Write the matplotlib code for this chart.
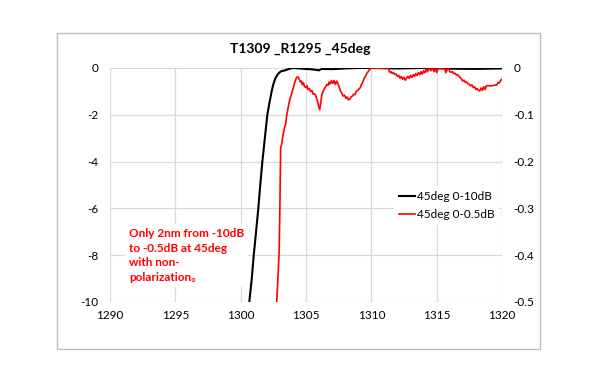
import matplotlib
matplotlib.use("Agg")
import matplotlib.pyplot as plt
from matplotlib.patches import Rectangle

title = "T1309 _R1295 _45deg"
series_black = "45deg 0-10dB"
series_red = "45deg 0-0.5dB"
note = "Only 2nm from -10dB\nto -0.5dB at 45deg\nwith non-\npolarization\u3002"

black_x = [1300.6, 1300.66, 1300.85, 1301.0, 1301.18, 1301.35, 1301.5, 1301.66, 1301.85,
           1302.04, 1302.2, 1302.37, 1302.5, 1302.65, 1302.8, 1302.95, 1303.1, 1303.4,
           1303.7, 1304.0, 1304.5, 1305.0, 1305.5, 1306.0, 1306.2, 1307.0, 1308.0, 1309.0,
           1310.0, 1312.0, 1314.0, 1316.0, 1318.0, 1320.0]
black_y = [-10.5, -10, -9, -8, -7, -6, -5, -4, -3, -2, -1.5, -1, -0.7, -0.45, -0.3, -0.2,
           -0.14, -0.1, -0.04, 0.0, -0.02, -0.04, -0.06, -0.1, -0.04, -0.05, -0.02, 0.0,
           0.0, -0.02, 0.0, -0.03, -0.04, -0.02]

red_x = [1302.72, 1302.85, 1302.95, 1303.0, 1303.04, 1303.06, 1303.12, 1303.2, 1303.3, 1303.38,
         1303.45, 1303.5, 1303.6, 1303.7, 1303.78, 1303.85, 1303.95, 1304.05, 1304.15, 1304.25,
         1304.33, 1304.42, 1304.5, 1304.58, 1304.65, 1304.72, 1304.8, 1304.9, 1305.0, 1305.08,
         1305.15, 1305.25, 1305.35, 1305.45, 1305.55, 1305.65, 1305.75, 1305.85, 1305.95, 1306.05,
         1306.12, 1306.2, 1306.3, 1306.4, 1306.5, 1306.6, 1306.7, 1306.78, 1306.85, 1306.95,
         1307.05, 1307.15, 1307.25, 1307.35, 1307.45, 1307.55, 1307.65, 1307.75, 1307.85, 1307.95,
         1308.05, 1308.15, 1308.25, 1308.35, 1308.45, 1308.55, 1308.65, 1308.75, 1308.85, 1308.95,
         1309.05, 1309.15, 1309.25, 1309.35, 1309.45, 1309.55, 1309.65, 1309.75, 1309.85, 1309.95,
         1311.3, 1311.4, 1311.5, 1311.6, 1311.7, 1311.8, 1311.9, 1312.0, 1312.1, 1312.2,
         1312.3, 1312.4, 1312.5, 1312.6, 1312.7, 1312.8, 1312.9, 1313.0, 1313.1, 1313.2,
         1313.3, 1313.4, 1313.5, 1313.6, 1313.7, 1313.8, 1313.9, 1314.0, 1314.1, 1314.2,
         1314.3, 1314.4, 1314.55, 1314.65, 1314.8, 1314.9, 1315.0, 1315.1, 1315.6, 1315.7,
         1315.8, 1315.9, 1316.0, 1316.1, 1316.2, 1316.3, 1316.4, 1316.5, 1316.6, 1316.7,
         1316.8, 1316.9, 1317.0, 1317.1, 1317.2, 1317.3, 1317.4, 1317.5, 1317.6, 1317.7,
         1317.8, 1317.9, 1318.0, 1318.1, 1318.2, 1318.3, 1318.4, 1318.5, 1318.6, 1318.7,
         1318.8, 1318.9, 1319.0, 1319.2, 1319.4, 1319.6, 1319.7, 1319.8, 1319.9, 1320.0]
red_y = [-0.52, -0.45, -0.39, -0.3, -0.2, -0.17, -0.165, -0.15, -0.135, -0.125,
         -0.12, -0.105, -0.09, -0.075, -0.065, -0.06, -0.05, -0.04, -0.03, -0.022,
         -0.019, -0.02, -0.026, -0.03, -0.028, -0.036, -0.032, -0.04, -0.042, -0.038,
         -0.046, -0.044, -0.05, -0.048, -0.056, -0.055, -0.06, -0.068, -0.08, -0.089,
         -0.075, -0.06, -0.05, -0.045, -0.04, -0.035, -0.037, -0.03, -0.034, -0.027,
         -0.033, -0.027, -0.035, -0.028, -0.034, -0.042, -0.05, -0.055, -0.06, -0.058,
         -0.065, -0.062, -0.068, -0.067, -0.062, -0.06, -0.056, -0.057, -0.05, -0.048,
         -0.045, -0.042, -0.035, -0.03, -0.022, -0.018, -0.012, -0.008, -0.004, 0.0,
         0.0, -0.009, -0.008, -0.012, -0.01, -0.014, -0.013, -0.018, -0.016, -0.022,
         -0.018, -0.024, -0.02, -0.026, -0.022, -0.018, -0.022, -0.016, -0.02, -0.014,
         -0.018, -0.012, -0.016, -0.01, -0.014, -0.008, -0.013, -0.006, -0.01, -0.002,
         -0.008, 0.0, -0.006, 0.0, -0.008, 0.0, -0.01, 0.0, 0.0, -0.01,
         -0.004, 0.0, -0.008, -0.009, -0.008, -0.012, -0.011, -0.015, -0.014, -0.018,
         -0.02, -0.024, -0.028, -0.026, -0.031, -0.03, -0.034, -0.035, -0.038, -0.036,
         -0.042, -0.04, -0.046, -0.044, -0.048, -0.049, -0.043, -0.048, -0.04, -0.046,
         -0.038, -0.038, -0.038, -0.038, -0.037, -0.036, -0.031, -0.032, -0.026, -0.024]

x_ticks = [1290, 1295, 1300, 1305, 1310, 1315, 1320]
left_ticks = [0, -2, -4, -6, -8, -10]
right_ticks = [0, -0.1, -0.2, -0.3, -0.4, -0.5]

plt.rcParams['font.family'] = ['Lato', 'Noto Sans CJK SC', 'DejaVu Sans']

fig = plt.figure(figsize=(6.0, 3.83), dpi=100)
fig.patches.append(Rectangle((0.095, 0.089), 0.805, 0.825, transform=fig.transFigure,
                             fill=False, edgecolor='#bfbfbf', linewidth=1.0))

ax = fig.add_axes([0.1833, 0.2115, 0.6534, 0.611])
ax2 = ax.twinx()

ax.set_xlim(1290, 1320)
ax.set_ylim(-10, 0)
ax2.set_ylim(-0.5, 0)
ax.set_xticks(x_ticks)
ax.set_xticklabels([str(v) for v in x_ticks])
ax.set_yticks(left_ticks)
ax.set_yticklabels([str(v) for v in left_ticks])
ax2.set_yticks(right_ticks)
ax2.set_yticklabels(["0" if v == 0 else ("%g" % v) for v in right_ticks])

for a in (ax, ax2):
    for s in a.spines.values():
        s.set_visible(False)
    a.tick_params(length=0, labelsize=8.5, colors='#000000')
ax.tick_params(axis='y', pad=8)
ax.tick_params(axis='x', pad=6)
ax2.tick_params(axis='y', pad=8)

ax.grid(True, color='#d9d9d9', linewidth=0.9)
ax.set_axisbelow(True)

l1, = ax.plot(black_x, black_y, color='black', linewidth=1.5, label=series_black)
l2, = ax2.plot(red_x, red_y, color='#ff0000', linewidth=1.2, label=series_red)

leg = ax2.legend(handles=[l1, l2], loc='upper left', bbox_to_anchor=(0.71, 0.52),
                 frameon=True, fancybox=False, edgecolor='none', facecolor='white',
                 framealpha=1.0, fontsize=8.5, handlelength=1.4, handletextpad=0.1,
                 borderpad=0.4, labelspacing=0.6)

ax2.text(0.048, 0.315, note, transform=ax2.transAxes, color='#ff0000', fontsize=8.5,
         fontweight='bold', va='top', ha='left', linespacing=1.4,
         bbox=dict(facecolor='white', edgecolor='none', pad=3))

fig.text(0.5, 0.873, title, ha='center', va='center', fontsize=10, fontweight='bold')

fig.savefig('out.png', dpi=100, facecolor='white')
